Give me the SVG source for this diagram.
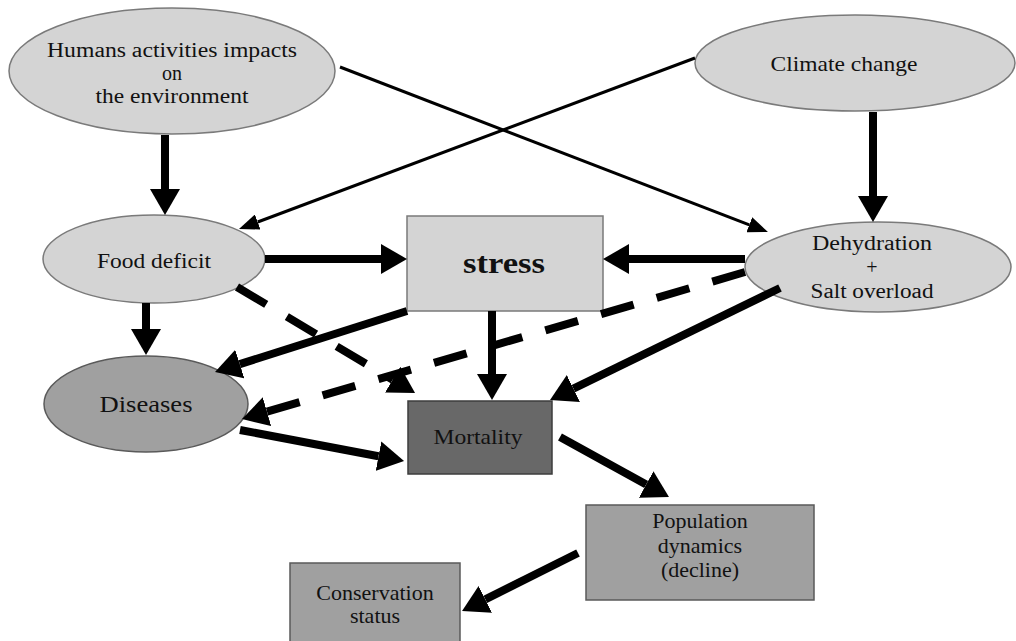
<svg xmlns="http://www.w3.org/2000/svg" width="1016" height="641" viewBox="0 0 1016 641">
<style>
.bg{fill:#ffffff}
.light{fill:#d4d4d4;stroke:#7a7a7a;stroke-width:1.5}
.mid{fill:#a0a0a0;stroke:#5a5a5a;stroke-width:1.5}
.dark{fill:#686868;stroke:#3c3c3c;stroke-width:1.5}
.t{font-family:"Liberation Serif","Times New Roman",serif;font-size:22px;fill:#111;text-anchor:middle}
.sm{font-size:20px}
.big{font-size:24px}
.bold{font-size:30px;font-weight:bold}
.thick{stroke:#000;stroke-width:8;fill:none;marker-end:url(#ah)}
.dash{stroke:#000;stroke-width:8;fill:none;stroke-dasharray:34 24;marker-end:url(#ah)}
.thin{stroke:#000;stroke-width:3;fill:none;marker-end:url(#ahs)}
</style>
<defs>
<marker id="ah" markerUnits="userSpaceOnUse" markerWidth="26" markerHeight="30" refX="0" refY="15" orient="auto" viewBox="0 0 26 30"><path d="M0,0 L26,15 L0,30 z" fill="#000"/></marker>
<marker id="ahs" markerUnits="userSpaceOnUse" markerWidth="20" markerHeight="16" refX="0" refY="8" orient="auto" viewBox="0 0 20 16"><path d="M0,0 L20,8 L0,16 z" fill="#000"/></marker>
</defs>
<rect class="bg" x="0" y="0" width="1016" height="641"/>
<g id="humans">
<ellipse class="light" cx="172" cy="71" rx="163" ry="63"/>
<text class="t sm" x="172" y="57" textLength="250" lengthAdjust="spacingAndGlyphs">Humans activities impacts</text>
<text class="t sm" x="172" y="80">on</text>
<text class="t sm" x="172" y="103" textLength="153" lengthAdjust="spacingAndGlyphs">the environment</text>
</g>
<g id="climate">
<ellipse class="light" cx="855" cy="63" rx="160" ry="48"/>
<text class="t" x="844" y="71" textLength="147" lengthAdjust="spacingAndGlyphs">Climate change</text>
</g>
<g id="food">
<ellipse class="light" cx="154" cy="259" rx="111" ry="44"/>
<text class="t" x="154" y="268" textLength="114" lengthAdjust="spacingAndGlyphs">Food deficit</text>
</g>
<g id="stress">
<rect class="light" x="407" y="216" width="196" height="95"/>
<text class="t bold" x="504" y="273" textLength="82" lengthAdjust="spacingAndGlyphs">stress</text>
</g>
<g id="dehydration">
<ellipse class="light" cx="878" cy="267" rx="133" ry="45"/>
<text class="t sm" x="872" y="250" textLength="120" lengthAdjust="spacingAndGlyphs">Dehydration</text>
<text class="t sm" x="872" y="274">+</text>
<text class="t sm" x="872" y="298" textLength="123" lengthAdjust="spacingAndGlyphs">Salt overload</text>
</g>
<g id="diseases">
<ellipse class="mid" cx="146" cy="404" rx="102" ry="48"/>
<text class="t big" x="146" y="412" textLength="93" lengthAdjust="spacingAndGlyphs">Diseases</text>
</g>
<g id="mortality">
<rect class="dark" x="408" y="401" width="144" height="73"/>
<text class="t" x="478" y="444" textLength="89" lengthAdjust="spacingAndGlyphs">Mortality</text>
</g>
<g id="population">
<rect class="mid" x="586" y="505" width="228" height="95"/>
<text class="t" x="700" y="528">Population</text>
<text class="t" x="700" y="553">dynamics</text>
<text class="t" x="700" y="577">(decline)</text>
</g>
<g id="conservation">
<rect class="mid" x="290" y="563" width="170" height="90"/>
<text class="t" x="375" y="600">Conservation</text>
<text class="t" x="375" y="623">status</text>
</g>
<g id="connectors">
<line class="thick" x1="165" y1="135" x2="165" y2="189"/>
<line class="thin" x1="340" y1="67" x2="749.3" y2="224.8"/>
<line class="thin" x1="695" y1="58" x2="257.7" y2="222"/>
<line class="thick" x1="873" y1="112" x2="873" y2="196"/>
<line class="thick" x1="265" y1="259" x2="381" y2="259"/>
<line class="thick" x1="745" y1="259" x2="629" y2="259"/>
<line class="thick" x1="146" y1="303" x2="146" y2="329"/>
<line class="dash" x1="237" y1="287" x2="392.7" y2="379.7"/>
<line class="thick" x1="407" y1="311" x2="239.8" y2="364.1"/>
<line class="thick" x1="492" y1="311" x2="492" y2="374"/>
<line class="thick" x1="780" y1="288" x2="573.4" y2="388.6"/>
<line class="dash" x1="745" y1="272" x2="267" y2="411.7"/>
<line class="thick" x1="240" y1="430" x2="378.5" y2="456.2"/>
<line class="thick" x1="560" y1="437" x2="646.2" y2="484.5"/>
<line class="thick" x1="578" y1="553" x2="485.3" y2="599.4"/>
</g>
</svg>
